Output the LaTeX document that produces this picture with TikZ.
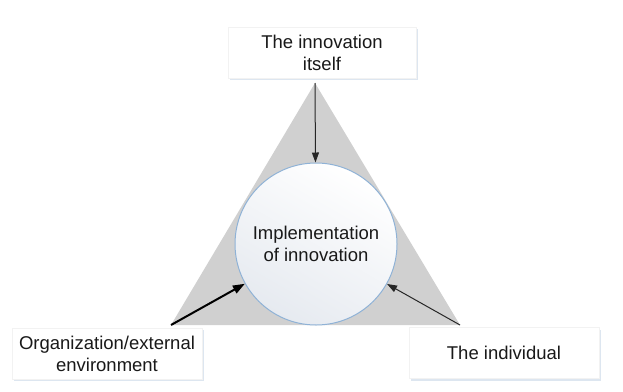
\documentclass[tikz,border=0pt]{standalone}
\usepackage{fontspec}
\setmainfont{Liberation Sans}
\usetikzlibrary{shadows,arrows.meta}
\definecolor{trigray}{HTML}{D0D0D0}
\definecolor{circedge}{HTML}{8FB2D6}
\definecolor{circfill}{HTML}{E6EAF0}
\definecolor{boxedge}{HTML}{F2F2F2}
\definecolor{boxshadow}{HTML}{DDE6F0}
\tikzset{
  lbl/.style={font=\fontsize{18.5}{22}\selectfont, align=center, text=black!90},
  labelbox/.style={lbl, draw=boxedge, fill=white, line width=0.5pt, inner sep=0pt,
    minimum height=51pt,
    drop shadow={shadow xshift=2pt, shadow yshift=-2pt, fill=boxshadow, opacity=1}},
  conn/.style={-{Triangle[length=10pt,width=7pt]}, line width=1pt, black!85},
  thickconn/.style={-{Triangle[length=12pt,width=8.5pt]}, line width=2pt, black}
}
\begin{document}
\begin{tikzpicture}[x=1pt,y=-1pt]
\useasboundingbox (0,0) rectangle (623,391);
% triangle vertices
\coordinate (T) at (315,83);
\coordinate (L) at (171,325);
\coordinate (R) at (460,325);
\fill[trigray] (T) -- (L) -- (R) -- cycle;
% central circle
\node[circle, draw=circedge, line width=1pt, minimum size=162pt, inner sep=0pt,
  top color=white, bottom color=circfill, shading angle=-30,
  lbl] (C) at (316,244) {Implementation\\of innovation};
% boxes
\node[labelbox, minimum width=188pt] (top) at (322,52.5) {The innovation\\itself};
\node[labelbox, minimum width=190pt] (org) at (107,353.5) {Organization/external\\environment};
\node[labelbox, minimum width=190pt] (ind) at (504,353) {The individual};
% connectors
\draw[conn] (T) -- (C);
\draw[thickconn] (L) -- (C);
\draw[conn] (R) -- (C);
\end{tikzpicture}
\end{document}
